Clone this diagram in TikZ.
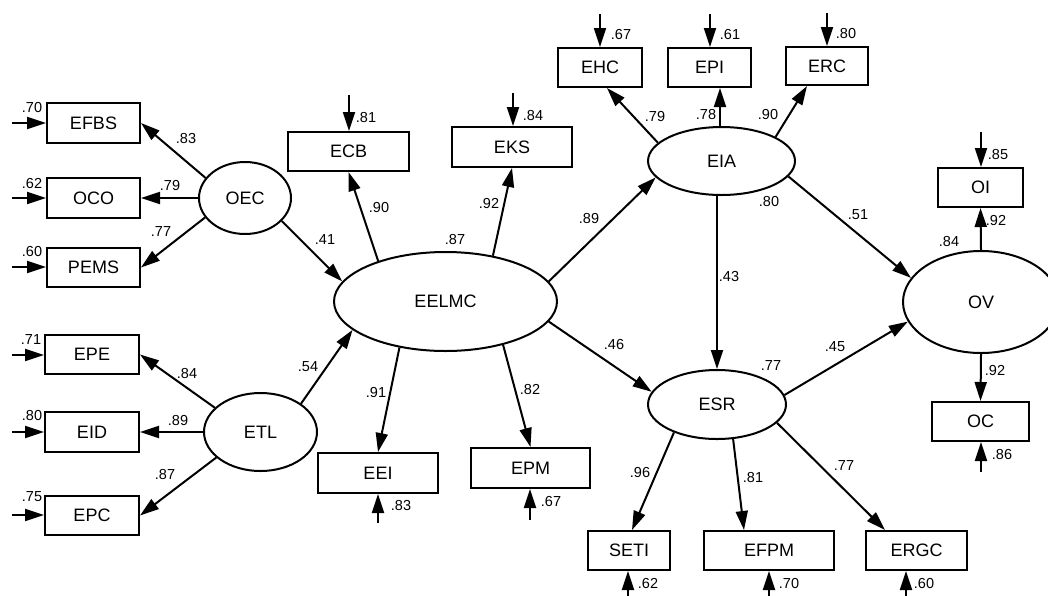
\documentclass[tikz,border=0pt]{standalone}
\usepackage{fontspec}
\setmainfont{Liberation Sans}
\usetikzlibrary{shapes.geometric,arrows.meta,calc}

\begin{document}
\begin{tikzpicture}[x=1pt,y=-1pt,
  obs/.style={draw, line width=2pt, rectangle, minimum height=39pt,
    inner sep=0pt, font=\fontsize{18}{20}\selectfont},
  lat/.style={draw, line width=2pt, ellipse, inner sep=0pt,
    font=\fontsize{18}{20}\selectfont},
  arr/.style={line width=2pt, -{Triangle[length=19pt,width=12pt]}},
  lbl/.style={font=\fontsize{14.5}{16}\selectfont, inner sep=0pt}]

\useasboundingbox (0,0) rectangle (1048,595);

% latent variables
\node[lat, minimum width=92pt,  minimum height=72pt] (OEC)   at (245,198)   {OEC};
\node[lat, minimum width=113pt, minimum height=78pt] (ETL)   at (260.5,432) {ETL};
\node[lat, minimum width=223pt, minimum height=99pt] (EELMC) at (445.5,301.5) {EELMC};
\node[lat, minimum width=147pt, minimum height=68pt] (EIA)   at (721.5,161) {EIA};
\node[lat, minimum width=138pt, minimum height=69pt] (ESR)   at (717,404.5) {ESR};
\node[lat, minimum width=156pt, minimum height=102pt] (OV)   at (981,302)   {OV};

% observed indicators
\node[obs, minimum width=93pt, minimum height=40pt] (EFBS) at (93.5,123) {EFBS};
\node[obs, minimum width=93pt, minimum height=40pt] (OCO)  at (93.5,198) {OCO};
\node[obs, minimum width=93pt]  (PEMS) at (93.5,267.5) {PEMS};
\node[obs, minimum width=94pt]  (EPE)  at (92,354.5)   {EPE};
\node[obs, minimum width=94pt, minimum height=40pt] (EID) at (92,432) {EID};
\node[obs, minimum width=94pt]  (EPC)  at (92,515.5)   {EPC};
\node[obs, minimum width=121pt] (ECB)  at (348.5,151.5) {ECB};
\node[obs, minimum width=120pt, minimum height=40pt] (EKS) at (512,147) {EKS};
\node[obs, minimum width=120pt, minimum height=40pt] (EEI) at (378,473) {EEI};
\node[obs, minimum width=119pt, minimum height=40pt] (EPM) at (530.5,468) {EPM};
\node[obs, minimum width=84pt]  (EHC)  at (600,67.5)   {EHC};
\node[obs, minimum width=83pt]  (EPI)  at (709.5,67.5) {EPI};
\node[obs, minimum width=82pt, minimum height=38pt] (ERC) at (827,66) {ERC};
\node[obs, minimum width=82pt]  (SETI) at (629,550.5)  {SETI};
\node[obs, minimum width=130pt] (EFPM) at (769,550.5)  {EFPM};
\node[obs, minimum width=101pt] (ERGC) at (916.5,550.5) {ERGC};
\node[obs, minimum width=85pt]  (OI)   at (980.5,187.5) {OI};
\node[obs, minimum width=97pt]  (OC)   at (980.5,421.5) {OC};

% free ends of the error arrows
\coordinate (eEFBS) at (12,123);
\coordinate (eOCO)  at (12,198);
\coordinate (ePEMS) at (12,267);
\coordinate (eEPE)  at (12,355);
\coordinate (eEID)  at (12,432);
\coordinate (eEPC)  at (12,515);
\coordinate (eECB)  at (349,95);
\coordinate (eEKS)  at (513,93);
\coordinate (eEHC)  at (600,14);
\coordinate (eEPI)  at (710,14);
\coordinate (eERC)  at (827,13);
\coordinate (eOI)   at (981,132);
\coordinate (eEEI)  at (378,523);
\coordinate (eEPM)  at (530,520);
\coordinate (eSETI) at (628,600);
\coordinate (eEFPM) at (769,600);
\coordinate (eERGC) at (906,600);
\coordinate (eOC)   at (981,472);

% error arrows
\foreach \n in {EFBS,OCO,PEMS,EPE,EID,EPC}
  \draw[arr] (e\n) -- (e\n -| \n.west);
\foreach \n in {ECB,EKS,EHC,EPI,ERC,OI}
  \draw[arr] (e\n) -- (e\n |- \n.north);
\foreach \n in {EEI,EPM,SETI,EFPM,ERGC,OC}
  \draw[arr] (e\n) -- (e\n |- \n.south);

% measurement paths
\draw[arr] (OEC.153) -- (EFBS.east);
\draw[arr] (OEC.west) -- (OCO.east);
\draw[arr] (OEC.206) -- (PEMS.east);
\draw[arr] (ETL.152) -- (EPE.east);
\draw[arr] (ETL.west) -- (EID.east);
\draw[arr] (ETL.210) -- (EPC.east);
\draw[arr] (EELMC.149) -- (ECB.south);
\draw[arr] (EELMC.44) -- (EKS.south);
\draw[arr] (EELMC.225) -- (EEI.north);
\draw[arr] (EELMC.323) -- (EPM.north);
\draw[arr] (EIA.164) -- ([xshift=7pt]EHC.south);
\draw[arr] ([xshift=-1.5pt]EIA.north) -- ([xshift=-1.5pt]EIA.north |- EPI.south);
\draw[arr] (EIA.24) -- ([xshift=-20pt]ERC.south);
\draw[arr] (ESR.213) -- ([xshift=3pt]SETI.north);
\draw[arr] (ESR.295) -- ([xshift=-25pt]EFPM.north);
\draw[arr] (ESR.343) -- ([xshift=-31.5pt]ERGC.north);
\draw[arr] (OV.north) -- (OI.south);
\draw[arr] (OV.south) -- (OC.north);

% structural paths
\draw[arr] (OEC.-32) -- (EELMC.169);
\draw[arr] (ETL.35) -- (EELMC.197);
\draw[arr] (EELMC.11) -- (EIA.194);
\draw[arr] (EELMC.-11) -- (ESR.169);
\draw[arr] (ESR.north |- EIA.south) -- (ESR.north);
\draw[arr] (EIA.-13) -- (OV.161);
\draw[arr] (ESR.8) -- (OV.195);

% loadings and path coefficients
\node[lbl] (l1)  at (186,139) {.83};
\node[lbl] (l2)  at (170,186) {.79};
\node[lbl] (l3)  at (161,232) {.77};
\node[lbl] (l4)  at (187,373) {.84};
\node[lbl] (l5)  at (178,420) {.89};
\node[lbl] (l6)  at (165,474) {.87};
\node[lbl] (l7)  at (325,240) {.41};
\node[lbl] (l8)  at (308,367) {.54};
\node[lbl] (l9)  at (379,208) {.90};
\node[lbl] (l10) at (489,204) {.92};
\node[lbl] (l11) at (376,392) {.91};
\node[lbl] (l12) at (530,389) {.82};
\node[lbl] (l13) at (589,219) {.89};
\node[lbl] (l14) at (614,344) {.46};
\node[lbl] (l15) at (655,117) {.79};
\node[lbl] (l16) at (706,115) {.78};
\node[lbl] (l17) at (768,115) {.90};
\node[lbl] (l18) at (729,277) {.43};
\node[lbl] (l19) at (858,215) {.51};
\node[lbl] (l20) at (835,347) {.45};
\node[lbl] (l21) at (640,472) {.96};
\node[lbl] (l22) at (753,477) {.81};
\node[lbl] (l23) at (844,466) {.77};
\node[lbl] (l24) at (996,221) {.92};
\node[lbl] (l25) at (995,370) {.92};

% squared multiple correlations
\node[lbl] (r1)  at (32,107.5) {.70};
\node[lbl] (r2)  at (32,184)   {.62};
\node[lbl] (r3)  at (32,252)   {.60};
\node[lbl] (r4)  at (31,340)   {.71};
\node[lbl] (r5)  at (32,415)   {.80};
\node[lbl] (r6)  at (32,497)   {.75};
\node[lbl] (r7)  at (366,118)  {.81};
\node[lbl] (r8)  at (533,116)  {.84};
\node[lbl] (r9)  at (455,240)  {.87};
\node[lbl] (r10) at (401,505)  {.83};
\node[lbl] (r11) at (551,501)  {.67};
\node[lbl] (r12) at (621,35)   {.67};
\node[lbl] (r13) at (730,35)   {.61};
\node[lbl] (r14) at (846,34)   {.80};
\node[lbl] (r15) at (769,202)  {.80};
\node[lbl] (r16) at (771,366)  {.77};
\node[lbl] (r17) at (648,583)  {.62};
\node[lbl] (r18) at (789,583)  {.70};
\node[lbl] (r19) at (924,583)  {.60};
\node[lbl] (r20) at (998,155)  {.85};
\node[lbl] (r21) at (949,242)  {.84};
\node[lbl] (r22) at (1002,454) {.86};
\end{tikzpicture}
\end{document}
